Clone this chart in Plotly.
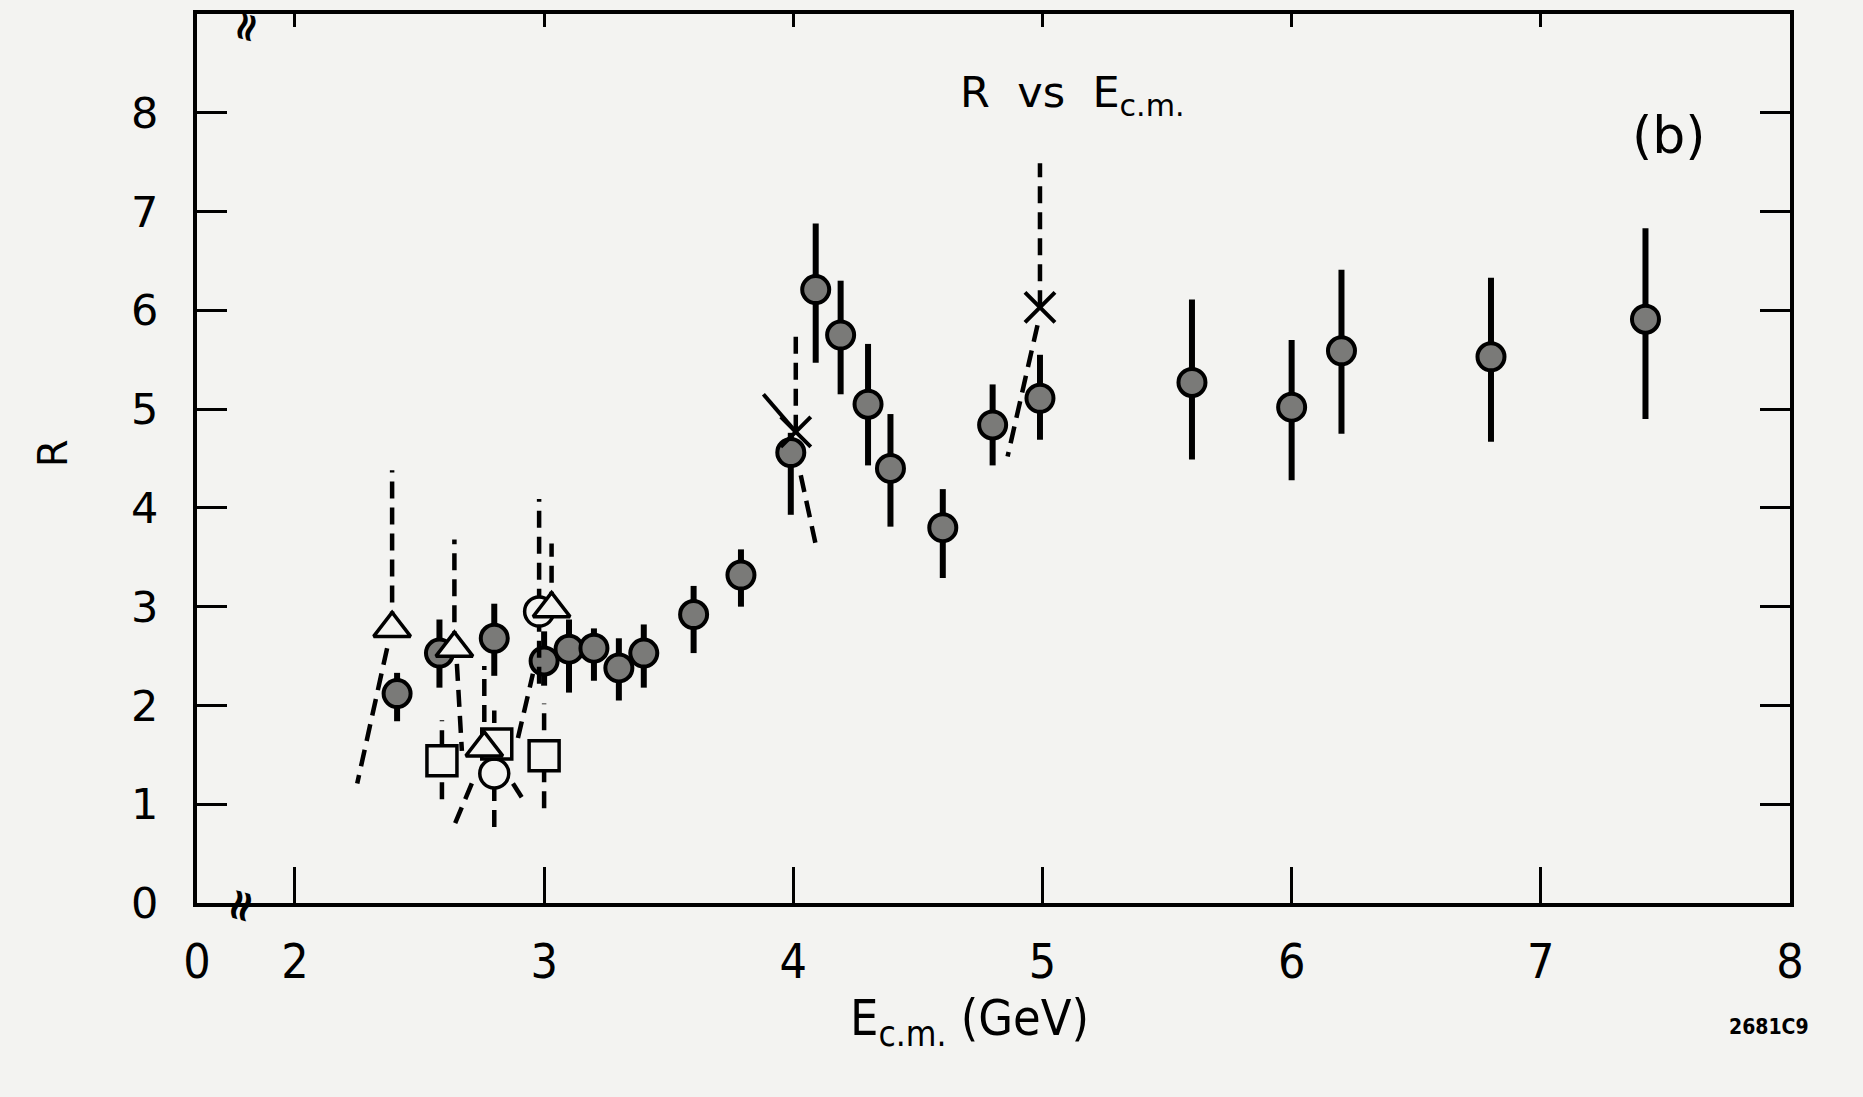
import plotly.graph_objects as go

# ---------------- data ----------------
# SLAC-LBL filled circles
E_slac = [2.41, 2.58, 2.80, 3.00, 3.10, 3.20, 3.30, 3.40, 3.60, 3.79, 3.99, 4.09,
          4.19, 4.30, 4.39, 4.60, 4.80, 4.99, 5.60, 6.00, 6.20, 6.80, 7.42]
R_slac = [2.12, 2.53, 2.68, 2.45, 2.57, 2.58, 2.38, 2.53, 2.92, 3.32, 4.56, 6.21,
          5.75, 5.05, 4.40, 3.80, 4.84, 5.11, 5.27, 5.02, 5.59, 5.53, 5.91]
err_up = [0.21, 0.34, 0.35, 0.30, 0.30, 0.20, 0.30, 0.29, 0.29, 0.26, 0.20, 0.67,
          0.55, 0.61, 0.55, 0.39, 0.41, 0.44, 0.84, 0.68, 0.82, 0.80, 0.92]
err_dn = [0.28, 0.35, 0.38, 0.25, 0.44, 0.33, 0.33, 0.35, 0.39, 0.32, 0.63, 0.74,
          0.60, 0.62, 0.59, 0.51, 0.41, 0.42, 0.78, 0.74, 0.84, 0.86, 1.01]

# other experiments: open triangles
tri_E = [2.39, 2.64, 2.76, 3.03]
tri_R = [2.78, 2.58, 1.57, 2.98]
tri_hi = [4.38, 3.68, 2.40, 3.64]

# open circles
oc_E = [2.80, 2.98]
oc_R = [1.31, 2.95]
oc_hi = [1.95, 4.09]
oc_lo = [0.77, 2.22]

# open squares
sq_E = [2.59, 2.81, 3.00]
sq_R = [1.44, 1.61, 1.49]
sq_hi = [1.85, 1.61, 2.02]
sq_lo = [1.05, 1.61, 0.96]

# crosses
cx_E = [4.01, 4.99]
cx_R = [4.77, 6.03]
cx_hi = [5.78, 7.49]

# slanted dashed error lines
sl_x0 = [2.37, 2.65, 2.71, 2.875, 2.895, 4.03, 4.98]
sl_y0 = [2.58, 2.42, 1.21, 1.21, 1.67, 4.33, 5.85]
sl_x1 = [2.25, 2.67, 2.64, 2.91, 2.955, 4.09, 4.86]
sl_y1 = [1.21, 1.54, 0.79, 1.07, 2.32, 3.63, 4.52]

# slanted solid line
ss_x0 = [3.88]
ss_y0 = [5.15]
ss_x1 = [4.01]
ss_y1 = [4.77]

x_tickvals = [1.607, 2, 3, 4, 5, 6, 7, 8]
x_ticktext = ["0", "2", "3", "4", "5", "6", "7", "8"]
y_tickvals = [0, 1, 2, 3, 4, 5, 6, 7, 8]

BG = "#f3f3f1"
NARROW = "Liberation Sans Narrow, Arial Narrow, DejaVu Sans Condensed"

# ---------------- figure ----------------
fig = go.Figure()

def vseg(xs, y0s, y1s):
    X, Y = [], []
    for x, a, b in zip(xs, y0s, y1s):
        if a is None or b is None:
            continue
        X += [x, x, None]
        Y += [a, b, None]
    return X, Y

def sseg(x0s, y0s, x1s, y1s):
    X, Y = [], []
    for a, b, c, d in zip(x0s, y0s, x1s, y1s):
        X += [a, c, None]
        Y += [b, d, None]
    return X, Y

dash_line = dict(color="black", width=4.5, dash="17px,9px")

# SLAC error bars + points
fig.add_trace(go.Scatter(
    x=E_slac, y=R_slac, mode="markers",
    marker=dict(symbol="circle", size=27, color="#7a7a78",
                line=dict(color="black", width=4)),
    error_y=dict(type="data", symmetric=False, array=err_up, arrayminus=err_dn,
                 color="black", thickness=6, width=0),
    showlegend=False, hoverinfo="skip"))

# dashed vertical error bars for other experiments
vx, vy = [], []
for xs, lo, hi in [(tri_E, tri_R, tri_hi), (oc_E, oc_lo, oc_hi),
                   (sq_E, sq_lo, sq_hi), (cx_E, cx_R, cx_hi)]:
    a, b = vseg(xs, lo, hi)
    vx += a
    vy += b
fig.add_trace(go.Scatter(x=vx, y=vy, mode="lines", line=dash_line,
                         showlegend=False, hoverinfo="skip"))

# slanted dashed lines
sx, sy = sseg(sl_x0, sl_y0, sl_x1, sl_y1)
fig.add_trace(go.Scatter(x=sx, y=sy, mode="lines", line=dash_line,
                         showlegend=False, hoverinfo="skip"))
# slanted solid line
sx, sy = sseg(ss_x0, ss_y0, ss_x1, ss_y1)
fig.add_trace(go.Scatter(x=sx, y=sy, mode="lines",
                         line=dict(color="black", width=4),
                         showlegend=False, hoverinfo="skip"))

# open markers
fig.add_trace(go.Scatter(x=oc_E, y=oc_R, mode="markers",
                         marker=dict(symbol="circle", size=29, color=BG,
                                     line=dict(color="black", width=3.5)),
                         showlegend=False, hoverinfo="skip"))
fig.add_trace(go.Scatter(x=sq_E, y=sq_R, mode="markers",
                         marker=dict(symbol="square", size=30, color=BG,
                                     line=dict(color="black", width=3.5)),
                         showlegend=False, hoverinfo="skip"))
fig.add_trace(go.Scatter(x=tri_E, y=tri_R, mode="markers",
                         marker=dict(symbol="triangle-up", size=32, color=BG,
                                     line=dict(color="black", width=3.5)),
                         showlegend=False, hoverinfo="skip"))
fig.add_trace(go.Scatter(x=cx_E, y=cx_R, mode="markers",
                         marker=dict(symbol="x-thin", size=30, color="black",
                                     line=dict(color="black", width=4)),
                         showlegend=False, hoverinfo="skip"))

# invisible trace for top axis
fig.add_trace(go.Scatter(x=[2], y=[0], xaxis="x2", mode="markers",
                         marker=dict(opacity=0), showlegend=False, hoverinfo="skip"))

fig.update_layout(
    width=1863, height=1097,
    margin=dict(l=197, r=73, t=10, b=194),
    paper_bgcolor=BG, plot_bgcolor=BG,
    xaxis=dict(range=[1.607, 8], tickvals=x_tickvals, ticktext=x_ticktext,
               ticks="inside", ticklen=36, tickwidth=2.5, tickcolor="black",
               showline=True, linewidth=3.5, linecolor="black", mirror=True,
               showgrid=False, zeroline=False, ticklabelstandoff=14,
               tickfont=dict(family=NARROW, size=48, color="black")),
    xaxis2=dict(range=[1.607, 8], overlaying="x", side="top",
                tickvals=[2, 3, 4, 5, 6, 7], ticks="inside", ticklen=13,
                tickwidth=2.5, tickcolor="black", showticklabels=False,
                showgrid=False, zeroline=False, showline=False),
    yaxis=dict(range=[0, 9], tickvals=y_tickvals,
               ticks="inside", ticklen=30, tickwidth=3, tickcolor="black",
               showline=True, linewidth=4, linecolor="black", mirror="ticks",
               showgrid=False, zeroline=False, ticklabelstandoff=26,
               tickfont=dict(family="DejaVu Sans", size=43, color="black")),
    annotations=[
        dict(text="R", xref="paper", yref="paper", x=-0.0904, y=0.506,
             xanchor="center", yanchor="middle",
             showarrow=False, textangle=-90,
             font=dict(family="DejaVu Sans", size=40, color="black")),
        dict(text="E<sub>c.m.</sub> (GeV)", xref="paper", yref="paper",
             x=0.485, y=-0.133, xanchor="center", yanchor="middle", showarrow=False,
             font=dict(family=NARROW, size=50, color="black")),
        dict(text="R  vs  E<sub>c.m.</sub>", xref="paper", yref="paper",
             x=0.5495, y=0.9094, xanchor="center", yanchor="middle", showarrow=False,
             font=dict(family="DejaVu Sans", size=43, color="black")),
        dict(text="(b)", xref="paper", yref="paper", x=0.924, y=0.864,
             xanchor="center", yanchor="middle", showarrow=False,
             font=dict(family="DejaVu Sans", size=52, color="black")),
        dict(text="<b>2681C9</b>", xref="paper", yref="paper", x=0.987, y=-0.14,
             xanchor="center", yanchor="middle", showarrow=False,
             font=dict(family=NARROW, size=21, color="black")),
        dict(text="<b>≈</b>", xref="x", yref="paper", x=1.79, y=-0.004, showarrow=False,
             xanchor="center", yanchor="middle", textangle=105,
             font=dict(family="DejaVu Sans", size=44, color="black"),
             borderpad=0),
        dict(text="<b>≈</b>", xref="x", yref="paper", x=1.81, y=0.985, showarrow=False,
             xanchor="center", yanchor="middle", textangle=105,
             font=dict(family="DejaVu Sans", size=40, color="black"),
             borderpad=0),
    ],
)

fig.write_html("out.html")
